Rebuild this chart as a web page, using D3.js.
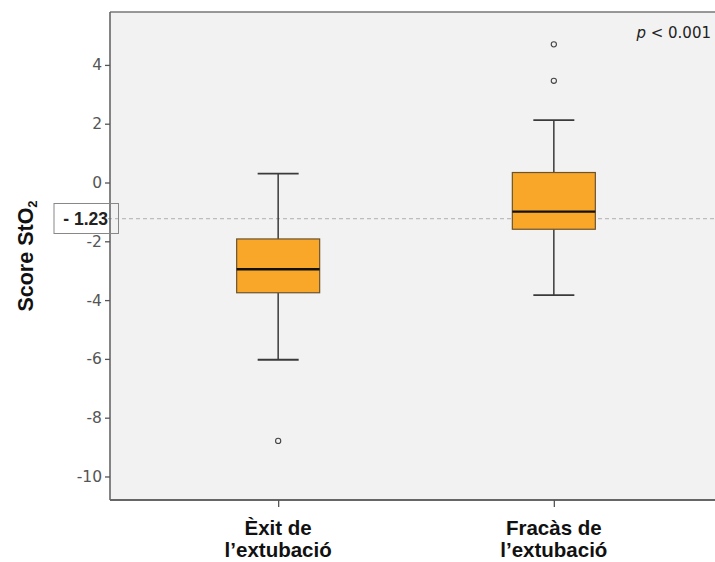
<!DOCTYPE html>
<html><head><meta charset="utf-8">
<script src="https://cdn.jsdelivr.net/npm/d3@7"></script>
<style>body{margin:0;background:#fff}svg{display:block}</style>
</head><body>
<svg id="c" width="715" height="562"></svg>
<script>
const categories = [["Èxit de","l’extubació"],["Fracàs de","l’extubació"]];
const whiskerLow = [-6.03, -3.83];
const q1 = [-3.75, -1.59];
const median = [-2.95, -0.99];
const q3 = [-1.92, 0.34];
const whiskerHigh = [0.30, 2.12];
const outliers = [[-8.79],[4.70, 3.46]];
const yTicks = [4,2,0,-2,-4,-6,-8,-10];
const refValue = -1.23;
const refLabel = "- 1.23";

const svg = d3.select("#c");
const L = 110, T = 12, R = 722, B = 500;
const y = d3.scaleLinear().domain([-10.8, 5.8]).range([B, T]);
const x = d3.scalePoint().domain(d3.range(categories.length)).range([L, R]).padding(0.61);
const boxW = 83, capW = 41;

svg.append("rect").attr("x", L).attr("y", T).attr("width", R - L).attr("height", B - T)
  .attr("fill", "#f2f2f2");

// reference line
svg.append("line").attr("x1", 108).attr("x2", R).attr("y1", y(refValue)).attr("y2", y(refValue))
  .attr("stroke", "#bdbdbd").attr("stroke-width", 1.2).attr("stroke-dasharray", "4,3");

// boxes
const g = svg.append("g");
categories.forEach((c, i) => {
  const cx = x(i);
  const s = "#3a3a3a";
  g.append("line").attr("x1", cx).attr("x2", cx).attr("y1", y(whiskerHigh[i])).attr("y2", y(q3[i])).attr("stroke", s).attr("stroke-width", 1.5);
  g.append("line").attr("x1", cx).attr("x2", cx).attr("y1", y(q1[i])).attr("y2", y(whiskerLow[i])).attr("stroke", s).attr("stroke-width", 1.5);
  g.append("line").attr("x1", cx - capW/2).attr("x2", cx + capW/2).attr("y1", y(whiskerHigh[i])).attr("y2", y(whiskerHigh[i])).attr("stroke", s).attr("stroke-width", 1.8);
  g.append("line").attr("x1", cx - capW/2).attr("x2", cx + capW/2).attr("y1", y(whiskerLow[i])).attr("y2", y(whiskerLow[i])).attr("stroke", s).attr("stroke-width", 1.8);
  g.append("rect").attr("x", cx - boxW/2).attr("width", boxW).attr("y", y(q3[i])).attr("height", y(q1[i]) - y(q3[i]))
    .attr("fill", "#f9a728").attr("stroke", "#6b5330").attr("stroke-width", 1.2);
  g.append("line").attr("x1", cx - boxW/2).attr("x2", cx + boxW/2).attr("y1", y(median[i])).attr("y2", y(median[i])).attr("stroke", "#111").attr("stroke-width", 2.4);
  outliers[i].forEach(v => {
    g.append("circle").attr("cx", cx).attr("cy", y(v)).attr("r", 2.6).attr("fill", "none").attr("stroke", "#444").attr("stroke-width", 1.1);
  });
});

// frame
svg.append("line").attr("x1", L).attr("x2", R).attr("y1", T).attr("y2", T).attr("stroke", "#777").attr("stroke-width", 1.5);

// y axis
const ya = svg.append("g").attr("transform", `translate(${L},0)`)
  .call(d3.axisLeft(y).tickValues(yTicks).tickSize(5).tickPadding(3).tickSizeOuter(0).tickFormat(d3.format("d")));
ya.select(".domain").attr("stroke", "#666").attr("stroke-width", 1.6).attr("d", `M0,${T}V${B}`);
ya.selectAll(".tick line").attr("stroke", "#555").attr("stroke-width", 1.3);
ya.selectAll(".tick text").attr("font-family", "'DejaVu Sans', sans-serif").attr("font-size", 15.5).attr("fill", "#555")
  .text(d => d < 0 ? "-" + Math.abs(d) : d);

// x axis
const xa = svg.append("g").attr("transform", `translate(0,${B})`)
  .call(d3.axisBottom(x).tickSize(7).tickSizeOuter(0).tickFormat(""));
xa.select(".domain").attr("stroke", "#666").attr("stroke-width", 1.8).attr("d", `M${L},0H${R}`);
xa.selectAll(".tick line").attr("stroke", "#555").attr("stroke-width", 1.3);
categories.forEach((c, i) => {
  const t = svg.append("text").attr("text-anchor", "middle").attr("font-family", "'Liberation Sans', Arial, sans-serif")
    .attr("font-weight", "bold").attr("font-size", 20.5).attr("fill", "#111");
  c.forEach((ln, j) => t.append("tspan").attr("x", x(i)).attr("y", 535 + j * 22).text(ln));
});

// reference label box
svg.append("rect").attr("x", 54).attr("y", 203.5).attr("width", 64.5).attr("height", 30)
  .attr("fill", "none").attr("stroke", "#888").attr("stroke-width", 1);
svg.append("text").attr("x", 108).attr("y", y(refValue) + 6).attr("text-anchor", "end")
  .attr("font-family", "'Liberation Sans', Arial, sans-serif").attr("font-weight", "bold").attr("font-size", 17.5).attr("fill", "#222")
  .text(refLabel);

// y label
const yl = svg.append("text").attr("transform", "translate(33,256) rotate(-90)").attr("text-anchor", "middle")
  .attr("font-family", "'Liberation Sans', Arial, sans-serif").attr("font-weight", "bold").attr("font-size", 21.5).attr("fill", "#111");
yl.append("tspan").text("Score StO");
yl.append("tspan").attr("font-size", 13).attr("dy", 4).text("2");

// p value
const pt = svg.append("text").attr("x", 711).attr("y", 38).attr("text-anchor", "end")
  .attr("font-family", "'DejaVu Sans', sans-serif").attr("font-size", 15).attr("fill", "#222");
pt.append("tspan").attr("font-style", "italic").text("p");
pt.append("tspan").text(" < 0.001");
</script>
</body></html>
